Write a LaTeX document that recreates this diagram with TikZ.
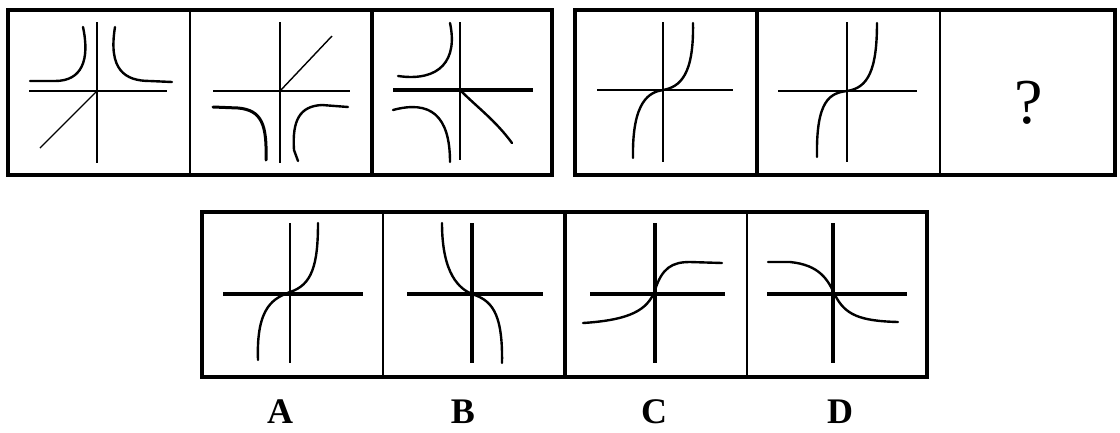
\documentclass[tikz,border=0pt]{standalone}
\usepackage{fontspec}
\setmainfont{Liberation Serif}
\usetikzlibrary{positioning}

\begin{document}
\begin{tikzpicture}[x=1pt, y=-1pt, frm/.style={line width=3.5pt},
	sep/.style={line width=2pt}, ax/.style={line width=1.8pt},
	axb/.style={line width=4.5pt}, crv/.style={line width=2.4pt, line cap=round},
	lbl/.style={font=\fontsize{36}{36}\selectfont\bfseries}]
\useasboundingbox (0,0) rectangle (1120,432);
% frames
\draw[frm] (8,10) rectangle (552,175);
\draw[sep] (190,10) -- (190,175);
\draw[frm] (372,10) -- (372,175);
\draw[frm] (575,10) rectangle (1115,175);
\draw[frm] (757,10) -- (757,175);
\draw[sep] (940,10) -- (940,175);
\draw[frm] (202,212) rectangle (927,377);
\draw[sep] (383,212) -- (383,377);
\draw[frm] (565,212) -- (565,377);
\draw[sep] (747,212) -- (747,377);
% top row, first group
\draw[ax] (97,22) -- (97,163);
\draw[ax] (29,91) -- (167,91);
\draw[crv] (83,27) .. controls (90,60) and (82,81) .. (55,81) -- (30,81);
\draw[crv] (115,27) .. controls (108,70) and (125,81) .. (150,81) -- (172,82);
\draw[line width=1.4pt] (40,148) -- (97,91);
\draw[ax] (280,22) -- (280,163);
\draw[ax] (213,91) -- (350,91);
\draw[line width=1.4pt] (280,91) -- (332,36);
\draw[crv, line width=3pt] (213,107) -- (238,108) .. controls (262,110) and (267,125) .. (266,160);
\draw[crv] (348,107) -- (322,105) .. controls (300,106) and (292,120) .. (294,150) -- (298,161);
\draw[ax] (460,22) -- (460,160);
\draw[axb] (393,90) -- (533,90);
\draw[crv] (450,23) .. controls (458,60) and (440,82) .. (398,76);
\draw[crv] (393,110) .. controls (430,100) and (450,115) .. (450,162);
\draw[crv] (460,90) .. controls (478,108) and (495,120) .. (512,143);
% top row, second group
\draw[ax] (663,22) -- (663,162);
\draw[ax] (597,90) -- (733,90);
\draw[crv] (633,158) .. controls (632,100) and (650,92) .. (663,90)
	.. controls (680,87) and (694,75) .. (693,23);
\draw[ax] (847,22) -- (847,162);
\draw[ax] (778,91) -- (917,91);
\draw[crv] (817,157) .. controls (816,100) and (830,93) .. (847,91)
	.. controls (868,88) and (877,70) .. (877,23);
\node[font=\fontsize{64}{64}\selectfont] (1) at (1029,103) {?};
% answers
\draw[ax] (290,223) -- (290,363);
\draw[axb] (223,294) -- (363,294);
\draw[crv] (258,360) .. controls (256,305) and (275,298) .. (290,292)
	.. controls (312,285) and (318,265) .. (318,223);
\draw[axb] (472,223) -- (472,363);
\draw[axb] (407,294) -- (543,294);
\draw[crv] (442,223) .. controls (442,275) and (460,289) .. (472,294)
	.. controls (490,300) and (503,310) .. (502,363);
\draw[axb] (655,223) -- (655,363);
\draw[axb] (590,294) -- (725,294);
\draw[crv] (583,323) .. controls (630,320) and (648,310) .. (655,290)
	.. controls (662,268) and (672,262) .. (690,262) -- (722,263);
\draw[axb] (833,223) -- (833,363);
\draw[axb] (767,294) -- (907,294);
\draw[crv] (768,262) -- (790,262) .. controls (820,265) and (828,280) .. (835,295)
	.. controls (845,315) and (860,321) .. (898,322);
\node[lbl] (2) at (280,412) {A};
\node[lbl] (3) at (463,412) {B};
\node[lbl] (4) at (654,412) {C};
\node[lbl] (5) at (840,412) {D};
\end{tikzpicture}
\end{document}
